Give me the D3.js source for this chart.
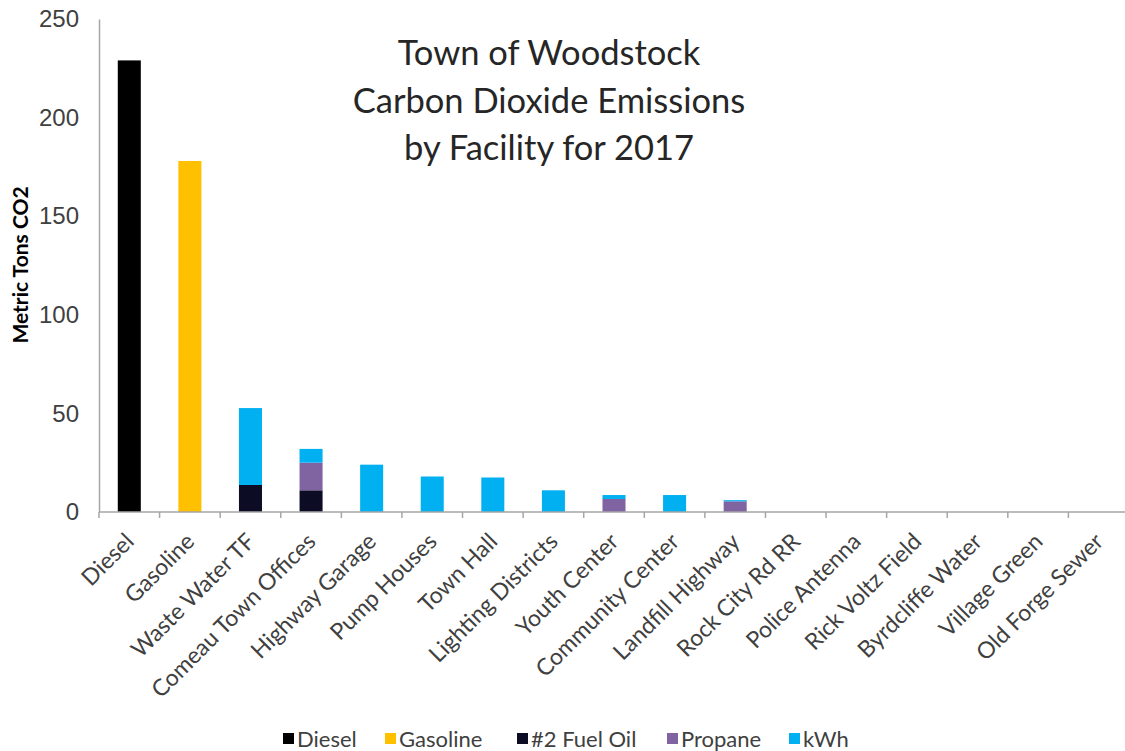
<!DOCTYPE html>
<html>
<head>
<meta charset="utf-8">
<script src="https://cdn.jsdelivr.net/npm/d3@7"></script>
<style>
  body { margin: 0; background: #fff; }
  svg { font-family: Lato, "Open Sans", sans-serif; }
</style>
</head>
<body>
<svg id="chart" width="1125" height="751"></svg>
<script>
// Data
const facilities = ['Diesel', 'Gasoline', 'Waste Water TF', 'Comeau Town Offices', 'Highway Garage',
    'Pump Houses', 'Town Hall', 'Lighting Districts', 'Youth Center', 'Community Center',
    'Landfill Highway', 'Rock City Rd RR', 'Police Antenna', 'Rick Voltz Field',
    'Byrdcliffe Water', 'Village Green', 'Old Forge Sewer'];
const fuels = ['Diesel', 'Gasoline', '#2 Fuel Oil', 'Propane', 'kWh'];
const dieselVals   = [229, 0, 0, 0, 0, 0, 0, 0, 0, 0, 0, 0, 0, 0, 0, 0, 0];
const gasolineVals = [0, 178, 0, 0, 0, 0, 0, 0, 0, 0, 0, 0, 0, 0, 0, 0, 0];
const fuelOilVals  = [0, 0, 13.7, 11, 0, 0, 0, 0, 0, 0, 0, 0, 0, 0, 0, 0, 0];
const propaneVals  = [0, 0, 0, 14, 0, 0, 0, 0, 6.6, 0, 5.4, 0, 0, 0, 0, 0, 0];
const kwhVals      = [0, 0, 39, 7, 24, 18, 17.5, 11, 2, 8.6, 0.6, 0, 0, 0, 0, 0, 0];
const yTicks = [0, 50, 100, 150, 200, 250];
const colors = ['#000000', '#FFC000', '#0c0c24', '#8064A2', '#00B0F0'];

const seriesVals = [dieselVals, gasolineVals, fuelOilVals, propaneVals, kwhVals];
const rows = facilities.map((f, i) => {
    const r = { facility: f };
    fuels.forEach((k, j) => { r[k] = seriesVals[j][i]; });
    return r;
});

const svg = d3.select('#chart');
const left = 99, right = 1129;

const x = d3.scaleBand()
    .domain(facilities)
    .range([left, right])
    .paddingInner(0.62)
    .paddingOuter(0.31);
const y = d3.scaleLinear().domain([0, 250]).range([512, 19]);

const stack = d3.stack().keys(fuels)(rows);
const color = d3.scaleOrdinal().domain(fuels).range(colors);

// Bars
svg.append('g')
    .selectAll('g')
    .data(stack)
    .enter()
    .append('g')
    .attr('fill', d => color(d.key))
    .selectAll('rect')
    .data(d => d)
    .enter()
    .append('rect')
    .attr('x', d => x(d.data.facility))
    .attr('width', x.bandwidth())
    .attr('y', d => y(d[1]))
    .attr('height', d => y(d[0]) - y(d[1]));

// Y axis
const yAxis = svg.append('g')
    .attr('transform', `translate(${left},0)`)
    .call(d3.axisLeft(y).tickValues(yTicks).tickSize(0).tickPadding(20));
yAxis.select('.domain').attr('stroke', '#a6a6a6').attr('stroke-width', 1.5);
yAxis.selectAll('text').attr('font-size', 24).attr('fill', '#404040');

// X axis
const step = x.step();
const xAxis = svg.append('g').attr('transform', `translate(0,${y(0)})`);
xAxis.append('line')
    .attr('x1', left).attr('x2', right)
    .attr('stroke', '#a6a6a6').attr('stroke-width', 1.5);
xAxis.selectAll('.tk')
    .data(d3.range(facilities.length + 1))
    .enter()
    .append('line')
    .attr('x1', i => left + i * step)
    .attr('x2', i => left + i * step)
    .attr('y1', 0).attr('y2', 6)
    .attr('stroke', '#a6a6a6').attr('stroke-width', 1.5);
xAxis.selectAll('.lbl')
    .data(facilities)
    .enter()
    .append('text')
    .attr('transform', d => `translate(${x(d) + x.bandwidth() / 2 + 6},${31}) rotate(-45)`)
    .attr('text-anchor', 'end')
    .attr('font-size', 23)
    .attr('fill', '#404040')
    .text(d => d);

// Y axis title
svg.append('text')
    .attr('transform', 'translate(28,265) rotate(-90)')
    .attr('text-anchor', 'middle')
    .attr('font-size', 21)
    .attr('font-weight', 'bold')
    .attr('fill', '#000')
    .text('Metric Tons CO2');

// Title
const titleLines = ['Town of Woodstock', 'Carbon Dioxide Emissions', 'by Facility for 2017'];
svg.append('g')
    .selectAll('text')
    .data(titleLines)
    .enter()
    .append('text')
    .attr('x', 549)
    .attr('y', (d, i) => 65 + i * 47.5)
    .attr('text-anchor', 'middle')
    .attr('font-size', 34.5)
    .attr('fill', '#262626')
    .text(d => d);

// Legend
const legendX = [283, 385, 517, 667, 789];
const legend = svg.append('g')
    .selectAll('g')
    .data(fuels)
    .enter()
    .append('g')
    .attr('transform', (d, i) => `translate(${legendX[i]},739)`);
legend.append('rect')
    .attr('x', 0).attr('y', -6)
    .attr('width', 11).attr('height', 11)
    .attr('fill', d => color(d));
legend.append('text')
    .attr('x', 14).attr('y', 8)
    .attr('font-size', 22)
    .attr('fill', '#404040')
    .text(d => d);
</script>
</body>
</html>
